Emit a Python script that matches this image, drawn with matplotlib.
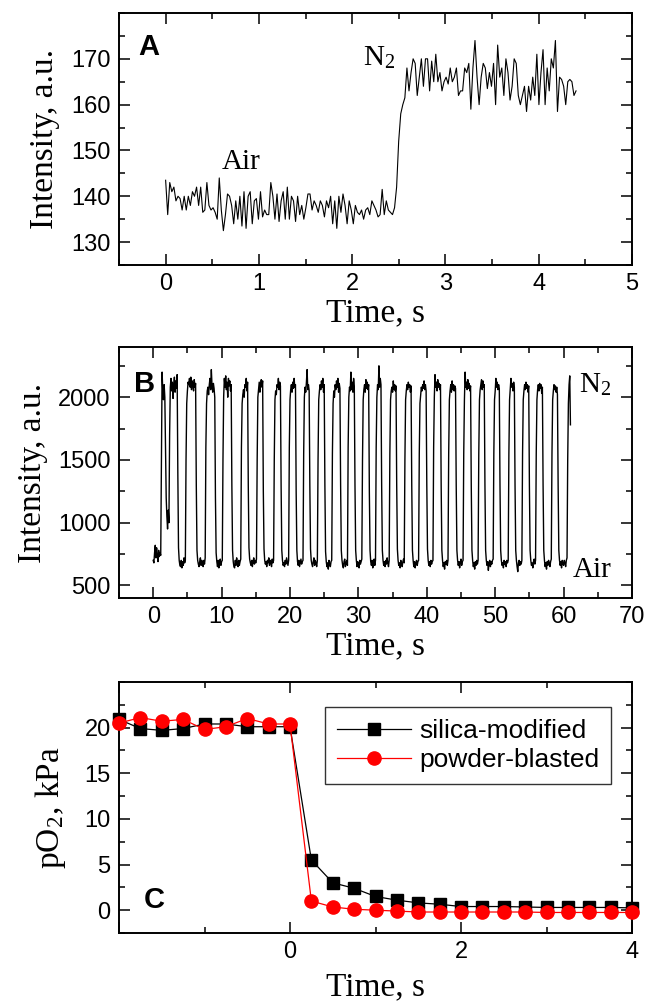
import numpy as np
import matplotlib.pyplot as plt
from matplotlib.ticker import MultipleLocator

plt.rcParams['font.family'] = ['Liberation Sans', 'DejaVu Sans']
plt.rcParams['mathtext.fontset'] = 'stix'

# panel A: single air -> N2 switch (a.u.), sampled evenly over 0..4.4 s
intA = [143.5, 136, 143, 141, 142, 139, 140, 139.5, 137, 140, 137, 140, 138, 141, 140, 142,
        138, 142, 136.5, 137, 143, 138, 137, 137.5, 136.5, 135, 144, 137, 132.5, 136, 140.5,
        140, 138, 134, 139, 135, 140, 133.5, 141, 133, 140, 141, 134, 139, 139.5, 135, 141,
        135.5, 137, 136, 136, 143, 140, 135, 140.5, 134.5, 139, 141, 135, 142, 135, 140, 139,
        134.5, 140, 136, 138, 135, 137.5, 140.5, 140.5, 137, 139, 138, 136.5, 139, 138, 135.5,
        139, 137.5, 140, 134, 139, 133, 140, 136.5, 140.5, 138, 134, 139, 137, 134, 138, 136.5,
        136, 137, 135, 137, 137.5, 136, 139, 138, 137, 135.5, 136, 141.5, 136, 139, 137, 136.5,
        136, 137.5,
        142, 152, 158, 160, 161.5,
        168, 163, 167, 170, 169, 162, 166, 170, 164, 170, 170, 163, 169.5, 165, 171, 165, 167,
        163, 165, 166, 164.5, 168, 165, 166, 168, 162, 163, 163, 168, 167, 169, 159, 168, 174,
        166, 160, 166, 169, 168, 163.5, 167, 164, 169, 160, 173, 166, 168, 162, 170, 167, 161,
        164, 170, 169, 162, 160, 162, 164, 158.5, 164, 161, 166, 162, 171, 160, 167, 172, 160,
        168, 163, 170, 168, 174, 158.5, 166, 165.5, 164, 160, 165, 165.5, 165, 162, 163]
tA_end = 4.4

# panel B: repeated switching, one value every 0.1 s
intB = [700, 680, 760, 820, 720, 800, 740, 690, 780, 730, 760, 740,
        1500, 2200, 2050, 1980, 2100, 2000, 1600, 1200, 1050, 950, 1100, 1000,
        1700, 2080, 2150, 2050, 2120, 1990, 2100, 2160, 2040, 2130, 2070, 2180,
        1400, 800, 700, 660, 650, 700, 640, 690, 660, 720, 680, 700,
        1500, 1950, 2050, 2120, 2100, 2150, 2080, 2160, 2060, 2130, 2100, 2050, 2140, 2080, 2110,
        1300, 780, 700, 670, 650, 690, 720, 660, 700, 680, 650, 700, 670, 720,
        1600, 1950, 2050, 2080, 2020, 2100, 2150, 2060, 2220, 2090, 2040, 2110, 2070, 2000,
        1200, 760, 690, 650, 700, 640, 680, 710, 660, 690, 700,
        1500, 2000, 2150, 2080, 2170, 2060, 2120, 2000, 2150, 2090, 2130, 2050, 2100,
        1300, 780, 690, 650, 640, 700, 660, 720, 680, 650, 700, 660, 690, 710,
        1600, 1950, 2020, 2060, 2000, 2100, 2080, 2150, 2050, 2120,
        1300, 800, 710, 680, 660, 700, 650, 690, 720, 670, 700, 680, 710,
        1500, 2000, 2060, 2120, 2040, 2100, 2140, 2080, 2130,
        1250, 790, 700, 670, 690, 650, 700, 680, 720, 660, 700, 690, 650, 710, 680, 700,
        1500, 1980, 2050, 2020, 2100, 2080, 2150, 2060, 2120, 2090,
        1300, 780, 700, 660, 680, 650, 700, 670, 720, 690, 660, 700,
        1600, 1980, 2060, 2100, 2040, 2120, 2070, 2150, 2080, 2100,
        1250, 780, 690, 660, 700, 650, 680, 710, 670, 690, 700,
        1550, 2000, 2080, 2040, 2120, 2220, 2060, 2100, 2050,
        1300, 790, 700, 670, 650, 690, 720, 660, 700, 680, 650, 700,
        1500, 1980, 2050, 2100, 2060, 2130, 2080, 2150, 2040, 2100,
        1300, 770, 690, 650, 680, 630, 700, 670, 650, 690, 700,
        1550, 1950, 2050, 2000, 2100, 2060, 2130, 2080, 2150, 2040, 2110, 2070,
        1300, 780, 700, 660, 640, 690, 710, 650, 680, 700, 660,
        1600, 2000, 2080, 2050, 2200, 2060, 2120, 2040, 2150, 2090,
        1300, 780, 700, 650, 690, 660, 640, 700, 670, 690, 710,
        1500, 1980, 2060, 2100, 2040, 2140, 2070, 2120, 2060, 2100,
        1250, 780, 690, 660, 700, 640, 680, 710, 660, 700,
        1600, 2000, 2100, 2060, 2250, 2080, 2150, 2100,
        1300, 780, 700, 660, 690, 650, 700, 670, 720, 680, 650, 700,
        1550, 1980, 2050, 2080, 2040, 2130, 2060, 2100, 2050, 2090,
        1300, 790, 700, 660, 680, 640, 700, 670, 650, 690, 710, 680,
        1500, 1980, 2050, 2100, 2060, 2120, 2080, 2100, 2040, 2090,
        1300, 780, 700, 650, 690, 640, 680, 700, 660, 690, 700,
        1550, 1950, 2020, 2080, 2050, 2100, 2070, 2130, 2060, 2100, 2050,
        1300, 790, 700, 660, 690, 650, 700, 670, 690, 700,
        1600, 2000, 2180, 2080, 2120, 2050, 2140, 2080, 2110, 2060, 2100,
        1300, 780, 700, 650, 680, 630, 690, 670, 700, 660, 700,
        1550, 1980, 2050, 2100, 2040, 2130, 2060, 2100, 2050, 2090, 2070,
        1300, 780, 700, 660, 690, 640, 680, 710, 660, 690, 700,
        1550, 1980, 2200, 2080, 2120, 2060, 2140, 2070, 2110, 2050, 2090,
        1300, 780, 700, 650, 680, 630, 690, 660, 700, 670, 700,
        1550, 1980, 2060, 2100, 2140, 2060, 2130, 2080, 2100,
        1300, 780, 700, 660, 690, 620, 680, 700, 650, 690, 670, 700, 710,
        1550, 1980, 2050, 2150, 2080, 2120, 2060, 2100, 2070,
        1300, 780, 700, 660, 680, 640, 700, 670, 690, 650, 700, 680, 700,
        1550, 1980, 2060, 2150, 2080, 2110, 2050, 2120, 2080,
        1300, 780, 700, 650, 610, 680, 700, 660, 690, 670, 700,
        1550, 1980, 2050, 2100, 2060, 2120, 2070, 2100, 2040, 2090,
        1300, 780, 700, 660, 680, 640, 690, 710, 670, 700,
        1550, 1980, 2060, 2100, 2050, 2110, 2070, 2100, 2030, 2080,
        1300, 780, 700, 650, 680, 630, 690, 660, 700, 680, 650, 690, 710,
        1550, 1980, 2050, 2100, 2060, 2090, 2040, 2080, 2020,
        1300, 780, 700, 660, 690, 640, 700, 670, 660, 700, 680, 650, 700, 720,
        1500, 1950, 2100, 2170, 1780]
dtB = 0.1

# panel C: pO2 response after switching at t = 0
tC = [-2.0, -1.75, -1.5, -1.25, -1.0, -0.75, -0.5, -0.25, 0.0, 0.25, 0.5, 0.75, 1.0,
      1.25, 1.5, 1.75, 2.0, 2.25, 2.5, 2.75, 3.0, 3.25, 3.5, 3.75, 4.0]
silica = [20.9, 19.9, 19.7, 19.9, 20.4, 20.4, 20.1, 20.1, 20.1, 5.5, 3.0, 2.4, 1.5,
          1.1, 0.8, 0.65, 0.4, 0.4, 0.4, 0.35, 0.3, 0.3, 0.3, 0.3, 0.25]
powder = [20.5, 21.1, 20.7, 20.9, 19.8, 20.1, 21.0, 20.4, 20.4, 1.0, 0.35, 0.1, 0.0,
          -0.1, -0.2, -0.2, -0.2, -0.2, -0.2, -0.2, -0.25, -0.25, -0.25, -0.25, -0.25]

serif = ['Liberation Serif', 'DejaVu Serif']
W, H = 646, 1002
fig = plt.figure(figsize=(W / 100, H / 100), dpi=100)


def frame(ax):
    for s in ax.spines.values():
        s.set_linewidth(1.4)
    ax.tick_params(which='both', direction='in', top=True, right=True, labelsize=17, width=1.1)
    ax.tick_params(which='major', length=8, pad=6)
    ax.tick_params(which='minor', length=4.5)


def box(l, t, r, b):
    return [l / W, 1 - b / H, (r - l) / W, (b - t) / H]


# --- A ---
axA = fig.add_axes(box(119, 13, 632, 265))
tA = np.linspace(0, tA_end, len(intA))
axA.plot(tA, intA, color='black', lw=0.8)
axA.set_xlim(-0.5, 5)
axA.set_ylim(125, 180)
axA.xaxis.set_major_locator(MultipleLocator(1))
axA.xaxis.set_minor_locator(MultipleLocator(0.5))
axA.set_yticks([130, 140, 150, 160, 170])
axA.yaxis.set_minor_locator(MultipleLocator(5))
frame(axA)
axA.set_xlabel('Time, s', family=serif, fontsize=24, labelpad=2)
axA.set_ylabel('Intensity, a.u.', family=serif, fontsize=24, labelpad=8)
axA.text(0.037, 0.92, 'A', transform=axA.transAxes, fontsize=21, fontweight='bold', va='top')
axA.text(0.6, 146, 'Air', family=serif, fontsize=21)
axA.text(2.12, 168.7, r'N$_\mathregular{2}$', family=serif, fontsize=21)

# --- B ---
axB = fig.add_axes(box(119, 347, 632, 598))
tB = np.arange(len(intB)) * dtB
axB.plot(tB, intB, color='black', lw=1.0)
axB.set_xlim(-5, 70)
axB.set_ylim(400, 2400)
axB.xaxis.set_major_locator(MultipleLocator(10))
axB.xaxis.set_minor_locator(MultipleLocator(5))
axB.set_yticks([500, 1000, 1500, 2000])
axB.yaxis.set_minor_locator(MultipleLocator(250))
frame(axB)
axB.set_xlabel('Time, s', family=serif, fontsize=24, labelpad=2)
axB.set_ylabel('Intensity, a.u.', family=serif, fontsize=24, labelpad=7)
axB.text(0.029, 0.91, 'B', transform=axB.transAxes, fontsize=21, fontweight='bold', va='top')
axB.text(62.3, 2040, r'N$_\mathregular{2}$', family=serif, fontsize=21)
axB.text(61.4, 564, 'Air', family=serif, fontsize=21)

# --- C ---
axC = fig.add_axes(box(119, 682, 632, 933))
axC.plot(tC, silica, color='black', lw=0.9, marker='s', ms=9, mfc='black', mec='black',
         label='silica-modified', clip_on=False, zorder=3)
axC.plot(tC, powder, color='red', lw=0.9, marker='o', ms=9.5, mfc='red', mec='red',
         label='powder-blasted', clip_on=False, zorder=4)
axC.set_xlim(-2, 4)
axC.set_ylim(-2.5, 25)
axC.set_xticks([-2, 0, 2, 4])
axC.set_xticklabels(['', '0', '2', '4'])
axC.xaxis.set_minor_locator(MultipleLocator(1))
axC.set_yticks([0, 5, 10, 15, 20])
axC.yaxis.set_minor_locator(MultipleLocator(2.5))
frame(axC)
axC.set_xlabel('Time, s', family=serif, fontsize=24, labelpad=6)
axC.set_ylabel(r'pO$_\mathregular{2}$, kPa', family=serif, fontsize=24, labelpad=12)
axC.text(0.049, 0.075, 'C', transform=axC.transAxes, fontsize=21, fontweight='bold', va='bottom')
leg = axC.legend(loc='upper right', bbox_to_anchor=(0.959, 0.9), borderaxespad=0,
                 fontsize=19, frameon=True, fancybox=False, handlelength=2.8,
                 labelspacing=0.2, borderpad=0.45, handletextpad=0.3)
leg.get_frame().set_edgecolor('black')
leg.get_frame().set_linewidth(1.0)

fig.savefig('out.png', dpi=100)
